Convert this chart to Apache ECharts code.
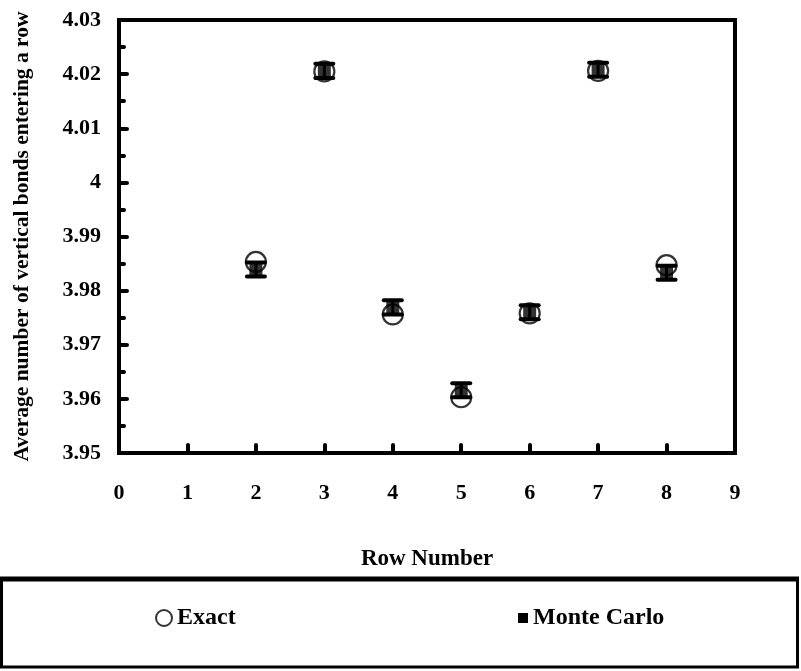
<!DOCTYPE html>
<html>
<head>
<meta charset="utf-8">
<title>Vertical bonds entering a row</title>
<script src="https://cdn.jsdelivr.net/npm/echarts@6/dist/echarts.min.js"></script>
<style>
  html, body { margin: 0; padding: 0; background: #ffffff; }
  #chart { width: 801px; height: 671px; }
</style>
</head>
<body>
<div id="chart"></div>
<script>
// Row numbers of the lattice
const rows = [2, 3, 4, 5, 6, 7, 8];
// Exact average number of vertical bonds entering each row
const exact = [3.9853, 4.0205, 3.9756, 3.9603, 3.9758, 4.0206, 3.9847];
// Monte Carlo estimates and their error half-widths
const monteCarlo = [3.9839, 4.0206, 3.9769, 3.9616, 3.9760, 4.0208, 3.9833];
const mcError = [0.0013, 0.0013, 0.0013, 0.0013, 0.0013, 0.0013, 0.0013];

const FONT = 'Liberation Serif';

const exactData = rows.map((r, i) => [r, exact[i]]);
const mcData = rows.map((r, i) => [r, monteCarlo[i]]);
const errData = rows.map((r, i) => [r, monteCarlo[i] - mcError[i], monteCarlo[i] + mcError[i]]);

const chart = echarts.init(document.getElementById('chart'), null, { renderer: 'canvas' });

chart.setOption({
  animation: false,
  color: ['#000000'],
  backgroundColor: '#ffffff',
  grid: {
    left: 119, right: 66, top: 20, bottom: 218,
    show: true, borderColor: '#000', borderWidth: 4, backgroundColor: 'transparent'
  },
  xAxis: {
    type: 'value', min: 0, max: 9, interval: 1,
    name: 'Row Number', nameLocation: 'middle', nameGap: 95,
    nameTextStyle: { fontFamily: FONT, fontWeight: 'bold', fontSize: 23, color: '#000' },
    axisLine: { show: true, lineStyle: { color: '#000', width: 4 } },
    axisTick: { show: true, inside: true, length: 8, lineStyle: { color: '#000', width: 4, cap: 'round' } },
    axisLabel: { margin: 29, fontFamily: FONT, fontWeight: 'bold', fontSize: 22, color: '#000' },
    splitLine: { show: false }
  },
  yAxis: {
    type: 'value', min: 3.95, max: 4.03, interval: 0.01,
    name: 'Average number of vertical bonds entering a row', nameLocation: 'middle', nameGap: 86,
    nameTextStyle: { fontFamily: FONT, fontWeight: 'bold', fontSize: 21.5, color: '#000' },
    axisLine: { show: true, lineStyle: { color: '#000', width: 4 } },
    axisTick: { show: true, inside: true, length: 8, lineStyle: { color: '#000', width: 4, cap: 'round' } },
    minorTick: { show: true, splitNumber: 2, length: 5, lineStyle: { color: '#000', width: 4, cap: 'round' } },
    axisLabel: {
      margin: 18, fontFamily: FONT, fontWeight: 'bold', fontSize: 22, color: '#000',
      formatter: v => String(+v.toFixed(2))
    },
    splitLine: { show: false }
  },
  legend: [
    {
      data: ['Exact'], left: 150, top: 601, itemWidth: 16, itemHeight: 16, itemGap: 0,
      textStyle: { fontFamily: FONT, fontWeight: 'bold', fontSize: 24, color: '#000' }
    },
    {
      data: [{ name: 'Monte Carlo', icon: 'rect', itemStyle: { color: '#000' } }],
      left: 513, top: 601, itemWidth: 10, itemHeight: 10, itemGap: 0,
      textStyle: { fontFamily: FONT, fontWeight: 'bold', fontSize: 24, color: '#000' }
    }
  ],
  graphic: [
    {
      type: 'rect', silent: true,
      shape: { x: 1.5, y: 579, width: 796, height: 88 },
      style: { fill: 'none', stroke: '#000', lineWidth: 3 }
    },
    {
      type: 'line', silent: true,
      shape: { x1: 0, y1: 579, x2: 799, y2: 579 },
      style: { stroke: '#000', lineWidth: 5 }
    }
  ],
  series: [
    {
      name: 'Exact', type: 'scatter', data: exactData,
      symbol: 'circle', symbolSize: 20, z: 2,
      itemStyle: { color: 'rgba(255,255,255,0)', borderColor: '#000', borderWidth: 2.2 }
    },
    {
      name: 'Monte Carlo', type: 'custom', data: errData, z: 3,
      itemStyle: { color: '#000' },
      renderItem: function (params, api) {
        const x = api.value(0);
        const lo = api.coord([x, api.value(1)]);
        const hi = api.coord([x, api.value(2)]);
        const half = 9;
        return {
          type: 'group',
          children: [
            { type: 'line', shape: { x1: lo[0], y1: lo[1], x2: hi[0], y2: hi[1] }, style: { stroke: '#000', lineWidth: 3 } },
            { type: 'line', shape: { x1: lo[0] - half, y1: lo[1], x2: lo[0] + half, y2: lo[1] }, style: { stroke: '#000', lineWidth: 4, lineCap: 'round' } },
            { type: 'line', shape: { x1: hi[0] - half, y1: hi[1], x2: hi[0] + half, y2: hi[1] }, style: { stroke: '#000', lineWidth: 4, lineCap: 'round' } }
          ]
        };
      }
    },
    {
      name: 'Monte Carlo', type: 'scatter', data: mcData,
      symbol: 'rect', symbolSize: 13, z: 4,
      itemStyle: { color: '#000' }
    }
  ]
});
</script>
</body>
</html>
